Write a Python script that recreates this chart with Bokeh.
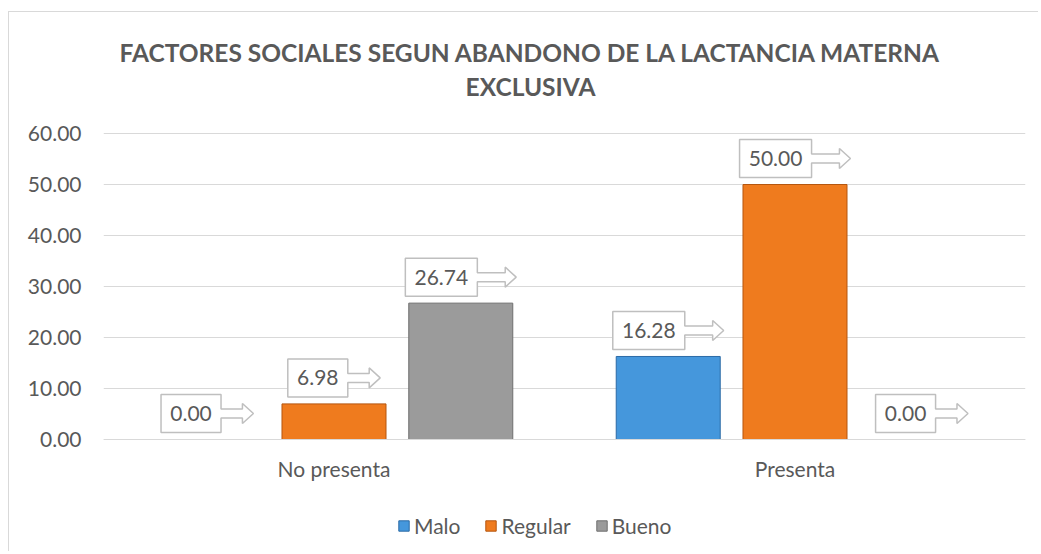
from bokeh.plotting import figure
from bokeh.models import (Range1d, FixedTicker, NumeralTickFormatter, Label,
                          Legend, LegendItem, ColumnDataSource)
from bokeh.core.properties import value
from bokeh.embed import file_html
from bokeh.resources import INLINE

# ---------------- data ----------------
categories = ["No presenta", "Presenta"]
series = ["Malo", "Regular", "Bueno"]
malo = [0.00, 16.28]
regular = [6.98, 50.00]
bueno = [26.74, 0.00]
y_ticks = [0, 10, 20, 30, 40, 50, 60]
title_lines = ["FACTORES SOCIALES SEGUN ABANDONO DE LA LACTANCIA MATERNA", "EXCLUSIVA"]

values = [malo, regular, bueno]
colors = ["#4597dc", "#ef7b1e", "#9b9b9b"]
edges = ["#2b6aa6", "#b5560f", "#6f6f6f"]

# ---------------- layout (page pixels) ----------------
OX, OY = 9, 12                 # canvas origin on the page (inside the chart border)
W, H = 1030, 540
PLOT_L, PLOT_R = 103, 1025     # plot-area left/right
Y0_PX, YMAX_PX = 439, 133      # px of y=0 and of the top tick
FL = PLOT_L - OX
FR = W - (PLOT_R - OX)
frame_w = PLOT_R - PLOT_L
YMAX = y_ticks[-1]
ppu_y = (Y0_PX - YMAX_PX) / YMAX          # px per y unit
ux = len(categories) / frame_w            # data units per px (x)
uy = 1.0 / ppu_y                          # data units per px (y)


def px_x(px):
    return (px - PLOT_L) * ux


def px_y(py):
    return (Y0_PX - py) * uy


FONT = "Lato"
TXT = "#595959"
GRID = "#d9d9d9"

p = figure(width=W, height=H, x_range=Range1d(0, len(categories)),
           y_range=Range1d(px_y(OY + H), px_y(OY)), output_backend="svg",
           toolbar_location=None, title=None,
           min_border_left=FL, min_border_right=FR, min_border_top=0,
           min_border_bottom=0)
p.outline_line_color = None
p.background_fill_color = "white"
p.border_fill_color = "white"
p.styles = {"margin-left": f"{OX - 1}px", "margin-top": f"{OY - 1}px",
            "border-left": "1px solid #d9d9d9", "border-top": "1px solid #d9d9d9"}

# axes
p.xaxis.fixed_location = 0
p.xaxis.ticker = FixedTicker(ticks=[i + 0.5 for i in range(len(categories))])
p.xaxis.major_label_overrides = {i + 0.5: c for i, c in enumerate(categories)}
p.xaxis.axis_line_color = GRID
p.xaxis.major_tick_line_color = None
p.xaxis.minor_tick_line_color = None
p.xaxis.major_label_standoff = 10
p.xaxis.major_label_text_font = FONT
p.xaxis.major_label_text_font_size = "21px"
p.xaxis.major_label_text_color = TXT

p.yaxis.ticker = FixedTicker(ticks=y_ticks)
p.yaxis.formatter = NumeralTickFormatter(format="0.00")
p.yaxis.axis_line_color = None
p.yaxis.major_tick_line_color = None
p.yaxis.minor_tick_line_color = None
p.yaxis.major_tick_out = 0
p.yaxis.major_label_standoff = 22
p.yaxis.major_label_text_font = FONT
p.yaxis.major_label_text_font_size = "21px"
p.yaxis.major_label_text_color = TXT

p.xgrid.grid_line_color = None
p.ygrid.grid_line_color = GRID
p.ygrid.grid_line_width = 1

# bars
offsets = [-0.275, 0.0, 0.275]
bar_w = 0.2256
renderers = []
for j, (name, vals) in enumerate(zip(series, values)):
    xs = [i + 0.5 + offsets[j] for i in range(len(categories))]
    src = ColumnDataSource(dict(x=xs, top=vals))
    r = p.vbar(x="x", top="top", width=bar_w, bottom=0, source=src,
               fill_color=colors[j], line_color=edges[j], line_width=1)
    renderers.append(r)

# data-label callouts (box + right arrow)
pxs, pys, tx, ty, tt = [], [], [], [], []
BOX_H = 38
HEAD_L = 11
for j, vals in enumerate(values):
    for i, v in enumerate(vals):
        text = f"{v:.2f}"
        bw = 12 * len(text) + 12
        al = 0.54 * bw
        total = bw + al
        cx = i + 0.5 + offsets[j]
        L = cx - total / 2 * ux
        Rb = L + bw * ux
        tip = L + total * ux
        hb = tip - HEAD_L * ux
        B = v + 7 * uy
        T = B + BOX_H * uy
        M = (B + T) / 2
        s = 4.5 * uy
        hh = 10 * uy
        pxs.append([L, Rb, Rb, hb, hb, tip, hb, hb, Rb, Rb, L])
        pys.append([B, B, M - s, M - s, M - hh, M, M + hh, M + s, M + s, T, T])
        tx.append((L + Rb) / 2)
        ty.append(M)
        tt.append(text)

p.patches(xs=pxs, ys=pys, fill_color="white", line_color="#bfbfbf", line_width=1.5)
p.text(x=tx, y=ty, text=tt, text_align="center", text_baseline="middle",
       text_font=value(FONT), text_font_size="21px", text_color=TXT)

# title
title_y_px = [52, 86]
for line, ypx in zip(title_lines, title_y_px):
    p.add_layout(Label(x=px_x(530), y=px_y(ypx), text=line,
                       text_align="center", text_baseline="middle",
                       text_font=FONT, text_font_size="24.5px", text_font_style="bold",
                       text_color=TXT))

# legend (frame-relative screen position, below the category labels)
legend = Legend(items=[LegendItem(label=n, renderers=[r]) for n, r in zip(series, renderers)],
                orientation="horizontal", location=(397 - PLOT_L, OY + H - 537.5),
                padding=0, margin=0, border_line_alpha=0, background_fill_alpha=0,
                label_text_font=FONT, label_text_font_size="21px", label_text_color=TXT,
                glyph_width=13, glyph_height=13, label_standoff=4, spacing=24)
p.add_layout(legend)

open("out.html", "w").write(file_html(p, INLINE))
